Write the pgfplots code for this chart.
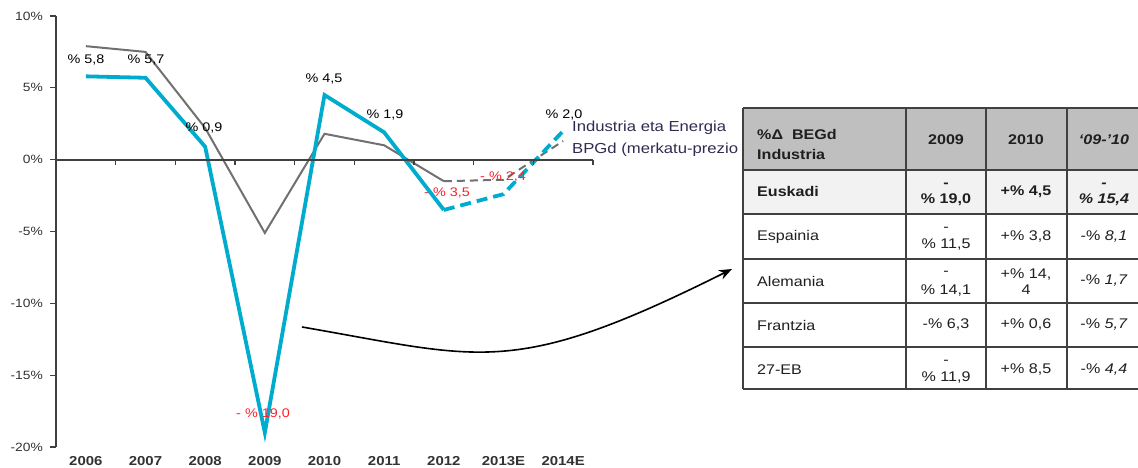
\documentclass[border=0pt]{standalone}
\usepackage{fontspec}
\setmainfont{Liberation Sans}[FakeStretch=1.15]
\usepackage{pgfplots}
\pgfplotsset{compat=1.18}
\usetikzlibrary{arrows.meta}
\definecolor{cblue}{RGB}{0,172,206}
\definecolor{cgray}{RGB}{112,112,112}
\definecolor{axgray}{RGB}{64,64,64}
\definecolor{legtxt}{RGB}{50,42,80}
\definecolor{hdrgray}{RGB}{191,191,191}
\definecolor{rowgray}{RGB}{242,242,242}
\definecolor{lblred}{RGB}{255,30,40}
\begin{document}
\begin{tikzpicture}[x=1pt,y=1pt]
\path[use as bounding box] (0,0) rectangle (1138,468);
\begin{axis}[
  at={(56pt,21pt)}, anchor=south west,
  scale only axis, width=537pt, height=431pt,
  xmin=-0.5, xmax=8.5, ymin=-20, ymax=10,
  axis lines*=left,
  x axis line style={draw=none},
  y axis line style={draw=axgray, line width=1.4pt},
  xtick={0,...,8},
  xticklabels={2006,2007,2008,2009,2010,2011,2012,2013E,2014E},
  x tick style={draw=none},
  ytick={-20,-15,-10,-5,0,5,10},
  yticklabels={-20\%,-15\%,-10\%,-5\%,0\%,5\%,10\%},
  y tick style={draw=axgray, line width=1.2pt},
  tick align=outside, major tick length=6pt,
  xticklabel style={font=\fontsize{13}{15}\selectfont\bfseries, text=black!80, anchor=base, yshift=-13pt},
  yticklabel style={font=\fontsize{12}{14}\selectfont, text=black!80, anchor=east, inner sep=0pt, xshift=-7pt},
  clip=false,
]
\addplot[cgray, line width=2pt] coordinates {(0,7.9) (1,7.5) (2,2.2) (3,-5.1) (4,1.8) (5,1.0) (6,-1.5)};
\addplot[cgray, line width=2pt, dash pattern=on 8pt off 5pt] coordinates {(6,-1.5) (7,-1.4) (8,1.3)};
\addplot[cblue, line width=3.8pt] coordinates {(0,5.8) (1,5.7) (2,0.9) (3,-19.0) (4,4.5) (5,1.9) (6,-3.5)};
\addplot[cblue, line width=3.8pt, dash pattern=on 11pt off 6pt] coordinates {(6,-3.5) (7,-2.4) (8,2.0)};
\end{axis}
% zero line with category ticks
\draw[axgray, line width=1.3pt] (56,308) -- (593,308);
\foreach \k in {1,...,9} \draw[axgray, line width=1.2pt] ({56+537*\k/9},308) -- ++(0,-5);
% data labels
\begin{scope}[every node/.style={font=\fontsize{12.5}{14}\selectfont, inner sep=0pt}]
\node at (86,408) {\% 5,8};
\node at (146,408) {\% 5,7};
\node at (204,340) {\% 0,9};
\node at (324,389) {\% 4,5};
\node at (385,353) {\% 1,9};
\node at (564,353) {\% 2,0};
\node[text=lblred] at (263,54) {- \% 19,0};
\node[text=lblred] at (447,275) {- \% 3,5};
\node[text=lblred] at (503,291) {- \% 2,4};
\end{scope}
% legend text
\node[anchor=west, inner sep=0pt, text=legtxt, font=\fontsize{14.5}{16}\selectfont] at (572,340) {Industria eta Energia};
\node[anchor=west, inner sep=0pt, text=legtxt, font=\fontsize{14.5}{16}\selectfont] at (572,318) {BPGd (merkatu-prezio};
% arrow
\draw[black, line width=1.6pt, -{Stealth[length=13pt,width=10pt]}] (302,141) .. controls (482,110) and (512,89) .. (732,199);
% table
\fill[hdrgray] (743,360) rectangle (1138,298);
\fill[rowgray] (743,298) rectangle (1138,254);
\fill[white] (743,254) rectangle (1138,79);
\foreach \yy in {360,298,254,209,165,121,79} \draw[axgray, line width=1.5pt] (743,\yy) -- (1138,\yy);
\foreach \xx in {743,906,986,1067} \draw[axgray, line width=1.5pt] (\xx,360) -- (\xx,79);
\begin{scope}[every node/.style={font=\fontsize{14}{16}\selectfont, inner sep=0pt, text=black!88}]
% header
\node[anchor=west, font=\fontsize{14}{16}\selectfont\bfseries] at (757,333) {\%Δ\ \ BEGd};
\node[anchor=west, font=\fontsize{14}{16}\selectfont\bfseries] at (757,313) {Industria};
\node[font=\fontsize{14}{16}\selectfont\bfseries] at (946,328) {2009};
\node[font=\fontsize{14}{16}\selectfont\bfseries] at (1026,328) {2010};
\node[font=\fontsize{14}{16}\selectfont\bfseries\itshape] at (1104,328) {‘09-’10};
% Euskadi
\node[anchor=west, font=\fontsize{14}{16}\selectfont\bfseries] at (757,276) {Euskadi};
\node[font=\fontsize{14}{16}\selectfont\bfseries] at (946,283) {-};
\node[font=\fontsize{14}{16}\selectfont\bfseries] at (946,268) {\% 19,0};
\node[font=\fontsize{14}{16}\selectfont\bfseries] at (1026,276) {+\% 4,5};
\node[font=\fontsize{14}{16}\selectfont\bfseries\itshape] at (1104,283) {-};
\node[font=\fontsize{14}{16}\selectfont\bfseries\itshape] at (1104,268) {\% 15,4};
% Espainia
\node[anchor=west] at (757,231) {Espainia};
\node at (946,239) {-};
\node at (946,223) {\% 11,5};
\node at (1026,231) {+\% 3,8};
\node at (1104,231) {-\% \textit{8,1}};
% Alemania
\node[anchor=west] at (757,187) {Alemania};
\node at (946,195) {-};
\node at (946,177) {\% 14,1};
\node at (1026,193) {+\% 14,};
\node at (1026,178) {4};
\node at (1104,187) {-\% \textit{1,7}};
% Frantzia
\node[anchor=west] at (757,143) {Frantzia};
\node at (946,143) {-\% 6,3};
\node at (1026,143) {+\% 0,6};
\node at (1104,143) {-\% \textit{5,7}};
% 27-EB
\node[anchor=west] at (757,98) {27-EB};
\node at (946,106) {-};
\node at (946,90) {\% 11,9};
\node at (1026,98) {+\% 8,5};
\node at (1104,98) {-\% \textit{4,4}};
\end{scope}
\end{tikzpicture}
\end{document}
